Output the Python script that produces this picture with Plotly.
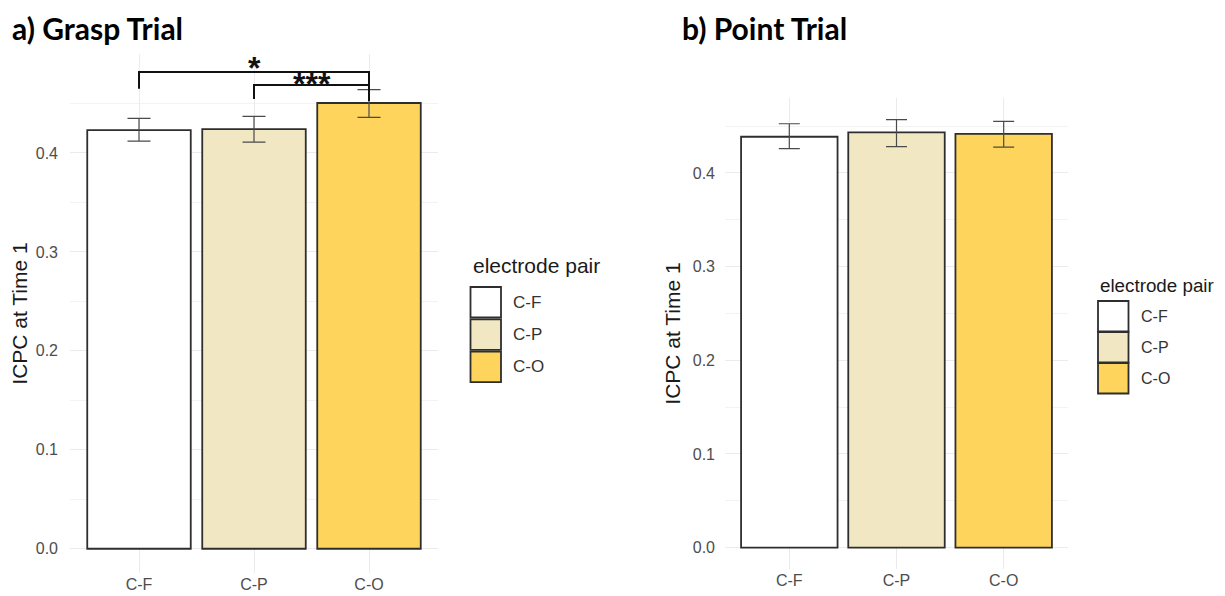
import plotly.graph_objects as go

# ---------------- data ----------------
pairs = ["C-F", "C-P", "C-O"]
grasp_mean = [0.423, 0.424, 0.4505]
grasp_lo = [0.412, 0.411, 0.436]
grasp_hi = [0.435, 0.437, 0.464]
point_mean = [0.4386, 0.4432, 0.4418]
point_lo = [0.426, 0.428, 0.4276]
point_hi = [0.4525, 0.457, 0.455]
fills = ["#FFFFFF", "#F1E8C3", "#FED45C"]
y_ticks = [0.0, 0.1, 0.2, 0.3, 0.4]

# significance brackets (Grasp panel)
sig_from = [0, 1]          # category index
sig_to = [2, 2]
sig_y = [0.4818, 0.4687]
sig_left_tip = [0.465, 0.4545]
sig_right_tip = [0.4525, 0.4525]
sig_label = ["*", "***"]
sig_label_y = [0.491, 0.4747]

# page is 1225x596 but the html body has an 8px margin
OFF = 8
W, H = 1225 - 2 * OFF, 596 - OFF


def px(x):
    return (x - OFF) / W


def py(y):
    return 1 - (y - OFF) / H


fig = go.Figure()

panels = [
    dict(mean=grasp_mean, lo=grasp_lo, hi=grasp_hi, xa="x", ya="y", cap=11.5),
    dict(mean=point_mean, lo=point_lo, hi=point_hi, xa="x2", ya="y2", cap=10.5),
]
for p in panels:
    fig.add_trace(go.Bar(
        x=pairs, y=p["mean"], xaxis=p["xa"], yaxis=p["ya"],
        width=0.9,
        marker=dict(color=fills, line=dict(color="#2e2e2e", width=1.8)),
        error_y=dict(type="data", symmetric=False,
                     array=[h - m for h, m in zip(p["hi"], p["mean"])],
                     arrayminus=[m - l for m, l in zip(p["mean"], p["lo"])],
                     color="#4a4a4a", thickness=1.2, width=p["cap"]),
        showlegend=False, hoverinfo="x+y",
    ))

FONT = "Liberation Sans, Arial, sans-serif"
tickfont = dict(family=FONT, size=16, color="#4D4D4D")
grid = "#EBEBEB"
common_x = dict(type="category", categoryorder="array", categoryarray=pairs,
                showgrid=True, gridcolor=grid, gridwidth=1, zeroline=False,
                showline=False, ticks="", tickfont=tickfont, automargin=False)


def yaxis_cfg(standoff):
    return dict(tickvals=y_ticks, ticktext=[f"{v:.1f}" for v in y_ticks],
                showgrid=True, gridcolor=grid, gridwidth=1, zeroline=False,
                showline=False, ticks="", tickfont=tickfont, ticklabelstandoff=standoff,
                automargin=False,
                minor=dict(dtick=0.05, tick0=0, showgrid=True, gridcolor="#F3F3F3", gridwidth=0.7),
                title=dict(text="ICPC at Time 1",
                           font=dict(family=FONT, size=21, color="#1a1a1a"),
                           standoff=6))


fig.update_layout(
    width=W, height=H,
    margin=dict(l=0, r=0, t=0, b=0, autoexpand=False),
    paper_bgcolor="white", plot_bgcolor="white",
    bargap=0.1,
    xaxis=dict(domain=[px(70), px(438)], range=[-0.6, 2.6], anchor="y", **common_x),
    yaxis=dict(domain=[py(573), py(54)], range=[-0.0245, 0.5], anchor="x", **yaxis_cfg(11)),
    xaxis2=dict(domain=[px(725), px(1068)], range=[-0.6, 2.6], anchor="y2", **common_x),
    yaxis2=dict(domain=[py(569), py(98)], range=[-0.0229, 0.48], anchor="x2", **yaxis_cfg(9)),
)

shapes = []
annotations = []

# significance brackets
for i in range(len(sig_label)):
    shapes.append(dict(type="path", xref="x", yref="y",
                       path=f"M {sig_from[i]},{sig_left_tip[i]} L {sig_from[i]},{sig_y[i]} "
                            f"L {sig_to[i]},{sig_y[i]} L {sig_to[i]},{sig_right_tip[i]}",
                       line=dict(color="#111111", width=2)))
    annotations.append(dict(x=(sig_from[i] + sig_to[i]) / 2, y=sig_label_y[i], xref="x", yref="y",
                            text=f"<b>{sig_label[i]}</b>", showarrow=False,
                            xanchor="center", yanchor="middle", yshift=-5,
                            font=dict(family=FONT, size=32, color="#111111")))

# panel titles
title_font = dict(family="Lato, Open Sans, sans-serif", size=30, color="#000000")
annotations.append(dict(x=px(10), y=py(28), xref="paper", yref="paper", text="<b>a) Grasp Trial</b>",
                        showarrow=False, xanchor="left", yanchor="middle", font=title_font))
annotations.append(dict(x=px(680), y=py(28), xref="paper", yref="paper", text="<b>b) Point Trial</b>",
                        showarrow=False, xanchor="left", yanchor="middle", font=title_font))

# legends (ggplot-style keys)
legends = [
    dict(x0=470.5, title_y=266, top=287, size=30.5, step=32.3, font=21, lab=17),
    dict(x0=1098, title_y=285, top=301, size=30.5, step=31, font=18.8, lab=16),
]
for lg in legends:
    annotations.append(dict(x=px(lg["x0"]), y=py(lg["title_y"]), xref="paper", yref="paper",
                            text="electrode pair", showarrow=False, xanchor="left", yanchor="middle",
                            font=dict(family=FONT, size=lg["font"], color="#1a1a1a")))
    for k, name in enumerate(pairs):
        t = lg["top"] + k * lg["step"]
        shapes.append(dict(type="rect", xref="paper", yref="paper",
                           x0=px(lg["x0"]), x1=px(lg["x0"] + lg["size"]),
                           y0=py(t + lg["size"]), y1=py(t),
                           fillcolor=fills[k], line=dict(color="#2e2e2e", width=1.8)))
        annotations.append(dict(x=px(lg["x0"] + lg["size"] + 10), y=py(t + lg["size"] / 2),
                                xref="paper", yref="paper", text=name, showarrow=False,
                                xanchor="left", yanchor="middle",
                                font=dict(family=FONT, size=lg["lab"], color="#333333")))

fig.update_layout(shapes=shapes, annotations=annotations)
fig.write_html("out.html")
